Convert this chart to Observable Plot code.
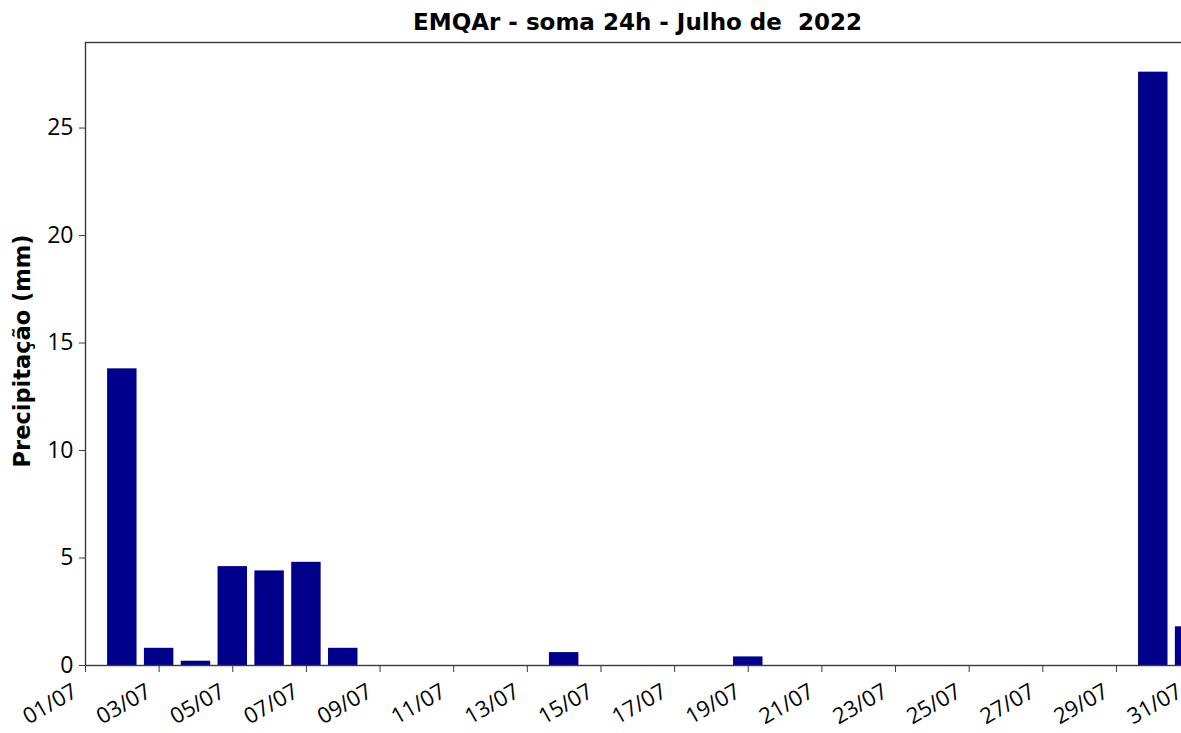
<!DOCTYPE html>
<html>
<head>
<meta charset="utf-8">
<script src="https://cdn.jsdelivr.net/npm/d3@7"></script>
<script src="https://cdn.jsdelivr.net/npm/@observablehq/plot@0.6"></script>
<style>
  html, body { margin: 0; padding: 0; background: #fff; overflow: hidden; width: 1181px; height: 733px; }
  #title { font-family: "DejaVu Sans", sans-serif; font-weight: bold; font-size: 23px; white-space: pre;
           height: 36px; line-height: 44px; margin-left: 85px; width: 1105px; text-align: center; color: #000; }
  #chart svg { display: block; overflow: visible; max-width: none !important; }
</style>
</head>
<body>
<div id="title">EMQAr - soma 24h - Julho de  2022</div>
<div id="chart"></div>
<script>
// Data: daily precipitation sums (mm), July 2022
const days   = ["02/07", "03/07", "04/07", "05/07", "06/07", "07/07", "08/07", "14/07", "19/07", "30/07", "31/07"];
const values = [13.8, 0.8, 0.2, 4.6, 4.4, 4.8, 0.8, 0.6, 0.4, 27.6, 1.8];
const xTickLabels = ["01/07","03/07","05/07","07/07","09/07","11/07","13/07","15/07","17/07","19/07","21/07","23/07","25/07","27/07","29/07","31/07"];
const yTicks = [0, 5, 10, 15, 20, 25];
const yLabel = "Precipitação (mm)";

const parseDay = s => { const [d, m] = s.split("/").map(Number); return new Date(Date.UTC(2022, m - 1, d)); };
const DAY = 864e5;
const rows = days.map((d, i) => ({ date: parseDay(d), value: values[i] }));
const tickDates = xTickLabels.map(parseDay);
const fmt = d => xTickLabels[tickDates.findIndex(t => +t === +d)];

const chart = Plot.plot({
  width: 1200,
  height: 697,
  marginLeft: 85,
  marginRight: 10.4,
  marginTop: 6,
  marginBottom: 68,
  style: { fontFamily: "'Open Sans', sans-serif", fontSize: "23px", color: "#000", background: "#fff", maxWidth: "none" },
  x: { type: "utc", domain: [tickDates[0], tickDates[tickDates.length - 1]] },
  y: { domain: [0, 28.98] },
  marks: [
    Plot.rectY(rows, {
      x1: d => new Date(+d.date - 0.4 * DAY),
      x2: d => new Date(+d.date + 0.4 * DAY),
      y: "value",
      fill: "#00008B",
      clip: true
    }),
    Plot.frame({ stroke: "#3a3a3a", strokeWidth: 1.4 }),
    Plot.axisY({ ticks: yTicks, tickSize: 6, tickPadding: 6, label: null, fontSize: 23, stroke: "#3a3a3a" }),
    // x tick marks only
    Plot.axisX({ ticks: tickDates, tickSize: 7, fill: "none", label: null, stroke: "#3a3a3a" }),
    // x tick labels only, rotated
    Plot.axisX({ ticks: tickDates, tickFormat: fmt, tickSize: 0, tickPadding: 11, tickRotate: -30,
                 dx: -10, dy: 13, label: null, fontSize: 22, fill: "#000" }),
    Plot.text([yLabel], { text: d => d, frameAnchor: "left", textAnchor: "middle", rotate: -90, dx: -63, dy: -3,
                          fontFamily: "DejaVu Sans, sans-serif", fontWeight: "bold", fontSize: 22.5, fill: "#000" })
  ]
});
document.getElementById("chart").append(chart);
</script>
</body>
</html>
